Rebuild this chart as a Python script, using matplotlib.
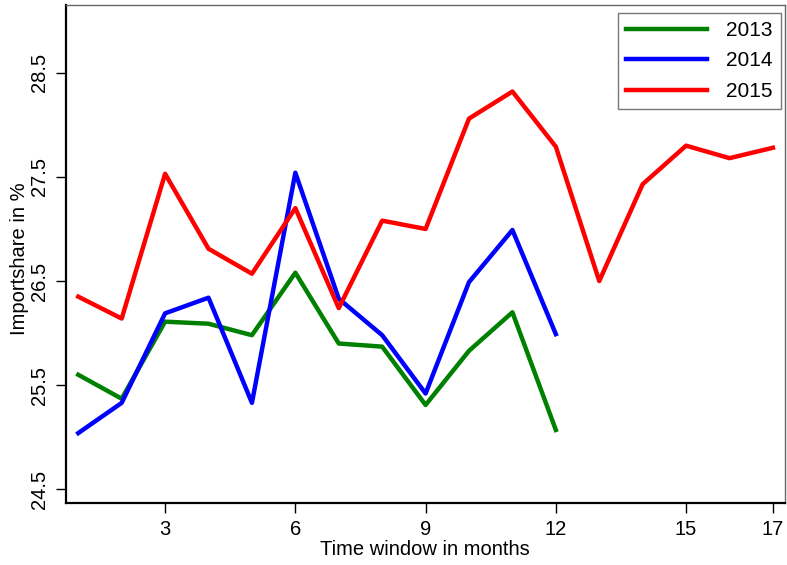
import numpy as np
import matplotlib.pyplot as plt

plt.rcParams['font.family'] = ['Liberation Sans', 'DejaVu Sans']

# Importshare in % per time window (months)
months_2013 = list(range(1, 13))
share_2013 = [25.60, 25.37, 26.11, 26.09, 25.98, 26.58, 25.90, 25.87, 25.31, 25.83, 26.20, 25.07]

months_2014 = list(range(1, 13))
share_2014 = [25.04, 25.33, 26.19, 26.34, 25.33, 27.54, 26.33, 25.98, 25.42, 26.49, 26.99, 25.99]

months_2015 = list(range(1, 18))
share_2015 = [26.35, 26.14, 27.53, 26.81, 26.57, 27.20, 26.24, 27.08, 27.00, 28.06,
              28.32, 27.79, 26.50, 27.43, 27.80, 27.68, 27.78]

xticks = [3, 6, 9, 12, 15, 17]
yticks = [24.5, 25.5, 26.5, 27.5, 28.5]

fig = plt.figure(figsize=(7.87, 5.65), dpi=100)
ax = fig.add_axes([0.084, 0.11, 0.913, 0.881])

ax.plot(months_2013, share_2013, color='#008000', lw=3.2, label='2013')
ax.plot(months_2014, share_2014, color='#0000ff', lw=3.2, label='2014')
ax.plot(months_2015, share_2015, color='#ff0000', lw=3.2, label='2015')

ax.set_xlim(0.72, 17.27)
ax.set_ylim(24.37, 29.15)
ax.set_xticks(xticks)
ax.set_yticks(yticks)
ax.set_yticklabels([f'{v:.1f}' for v in yticks], rotation=90, va='center')
ax.tick_params(axis='both', labelsize=14.5, length=7, width=1, direction='out', pad=5)
ax.tick_params(axis='y', pad=5)

for side in ['left', 'bottom']:
    ax.spines[side].set_linewidth(1.6)
for side in ['top', 'right']:
    ax.spines[side].set_linewidth(1.0)
    ax.spines[side].set_color('#666666')

ax.set_xlabel('Time window in months', fontsize=14.5, labelpad=1)
ax.set_ylabel('Importshare in %', fontsize=14.5)
ax.yaxis.set_label_coords(-0.052, 0.49)

leg = ax.legend(loc='upper right', fontsize=15, frameon=True, fancybox=False,
                edgecolor='#555555', handlelength=3.9, borderpad=0.4,
                labelspacing=0.55, handletextpad=0.9, borderaxespad=0,
                bbox_to_anchor=(0.9945, 0.985))
leg.get_frame().set_linewidth(1.0)

fig.savefig('out.png', dpi=100)
